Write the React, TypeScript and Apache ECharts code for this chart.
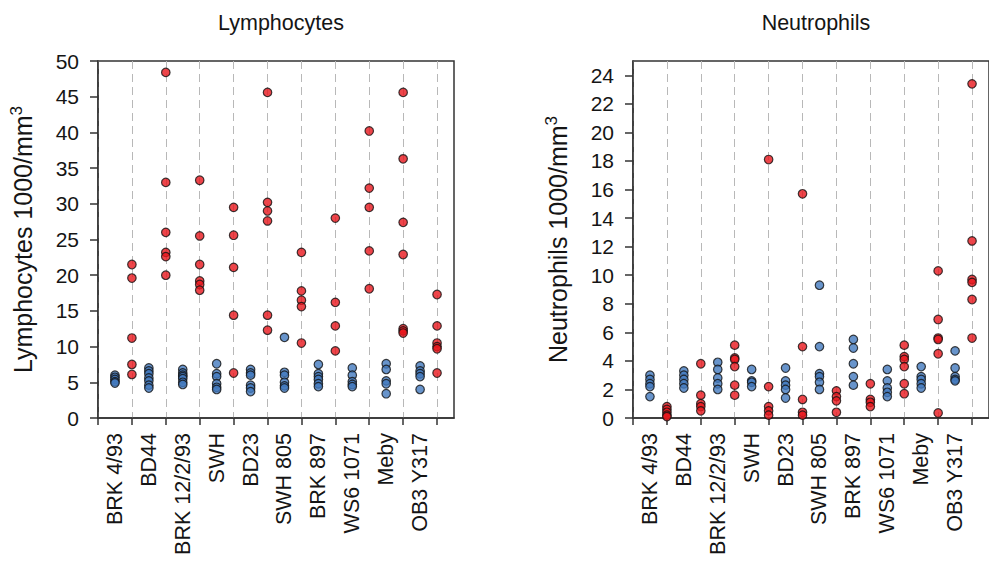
import React, { useEffect, useRef } from "react";
import * as echarts from "echarts";

const categories = ["BRK 4/93", "BD44", "BRK 12/2/93", "SWH", "BD23", "SWH 805", "BRK 897", "WS6 1071", "Meby", "OB3 Y317"];

const lymphBlue: number[][] = [
  [6.0, 5.7, 5.4, 5.1, 4.9],
  [7.0, 6.6, 6.2, 5.6, 5.2, 4.6, 4.2],
  [6.8, 6.3, 6.0, 5.8, 5.5, 5.0, 4.7],
  [7.6, 6.2, 5.8, 4.8, 4.3, 4.0],
  [6.8, 6.3, 6.0, 4.6, 4.2, 3.7],
  [11.3, 6.4, 6.0, 5.0, 4.5, 4.2],
  [7.5, 6.2, 5.8, 5.4, 4.8, 4.4],
  [7.0, 6.0, 5.1, 4.7, 4.4],
  [7.6, 6.8, 5.2, 4.8, 3.4],
  [7.3, 6.6, 6.2, 5.8, 4.0],
];

const lymphRed: number[][] = [
  [21.5, 19.6, 11.2, 7.5, 6.1],
  [48.4, 33.0, 26.0, 23.2, 22.6, 20.0],
  [33.3, 25.5, 21.5, 19.2, 18.7, 17.9],
  [29.5, 25.6, 21.1, 14.4, 6.3],
  [45.6, 30.2, 29.0, 27.6, 14.4, 12.3],
  [23.2, 17.8, 16.5, 15.6, 10.5],
  [28.0, 16.2, 12.9, 9.4],
  [40.2, 32.2, 29.5, 23.4, 18.1],
  [45.6, 36.3, 27.4, 22.9, 12.5, 12.2, 11.9],
  [17.3, 12.9, 10.5, 10.0, 9.7, 6.3],
];

const neutBlue: number[][] = [
  [3.0, 2.7, 2.4, 2.2, 1.5],
  [3.3, 3.0, 2.7, 2.4, 2.1],
  [3.9, 3.4, 2.8, 2.4, 2.0],
  [3.4, 2.6, 2.5, 2.2],
  [3.5, 2.6, 2.3, 2.0, 1.4],
  [9.3, 5.0, 3.1, 2.9, 2.5, 2.0],
  [5.5, 4.9, 3.8, 2.9, 2.3],
  [3.4, 2.6, 2.1, 1.8, 1.5],
  [3.6, 2.9, 2.7, 2.4, 2.1],
  [4.7, 3.5, 2.9, 2.7, 2.6],
];

const neutRed: number[][] = [
  [0.8, 0.6, 0.4, 0.2, 0.1],
  [3.8, 1.6, 1.0, 0.8, 0.5],
  [5.1, 4.2, 4.1, 3.6, 2.3, 1.6],
  [18.1, 2.2, 0.8, 0.5, 0.2],
  [15.7, 5.0, 1.3, 0.4, 0.2],
  [1.9, 1.5, 1.2, 0.4],
  [2.4, 1.3, 1.1, 0.8],
  [5.1, 4.3, 4.1, 3.6, 2.4, 1.7],
  [10.3, 6.9, 5.6, 5.5, 4.5, 0.35],
  [23.4, 12.4, 9.7, 9.5, 8.3, 5.6],
];

const lymphTicks = [0, 5, 10, 15, 20, 25, 30, 35, 40, 45, 50];
const neutTicks = [0, 2, 4, 6, 8, 10, 12, 14, 16, 18, 20, 22, 24];

const FONT = "Liberation Sans, Arial, sans-serif";
const TEXT = "#151515";
const AXIS = "#333333";
const BLUE = "#4279be";
const RED = "#e8161d";

const xTickValues = categories.map((_, i) => i).concat([categories.length]);
const xLabelValues = categories.map((_, i) => i + 0.5);

function toPoints(groups: number[][], offset: number) {
  const pts: number[][] = [];
  groups.forEach((vals, i) => vals.forEach((v) => pts.push([i + offset, v])));
  return pts;
}

export default function App() {
  const ref = useRef<HTMLDivElement>(null);
  useEffect(() => {
    if (!ref.current) return;
    const chart = echarts.init(ref.current, undefined, { renderer: "svg" });

    const makeX = (gridIndex: number) => ({
      type: "value",
      gridIndex,
      min: 0,
      max: categories.length + 0.5,
      interval: 1,
      axisLine: { show: true, onZero: false, lineStyle: { color: AXIS, width: 1.5 } },
      axisTick: { show: true, length: 7, customValues: xTickValues, lineStyle: { color: AXIS, width: 1.5 } },
      axisLabel: {
        show: true,
        customValues: xLabelValues,
        rotate: 90,
        margin: 15,
        fontSize: 21.5,
        fontFamily: FONT,
        color: TEXT,
        formatter: (v: number) => categories[Math.floor(v)] ?? "",
      },
      splitLine: { show: true, lineStyle: { color: "#b8b8b8", width: 1, type: [8, 5] } },
    });

    const makeY = (gridIndex: number, max: number, interval: number, ticks: number[], title: string) => ({
      type: "value",
      gridIndex,
      min: 0,
      max,
      interval,
      name: `{a|${title} 1000/mm}{b|3}`,
      nameLocation: "middle",
      nameRotate: 90,
      nameGap: 60,
      nameTextStyle: {
        fontFamily: FONT,
        color: TEXT,
        rich: {
          a: { fontSize: 25, fontFamily: FONT, color: TEXT, lineHeight: 30 },
          b: { fontSize: 17, fontFamily: FONT, color: TEXT, lineHeight: 17, verticalAlign: "top" },
        },
      },
      axisLine: { show: true, onZero: false, lineStyle: { color: AXIS, width: 1.5 } },
      axisTick: { show: true, length: 8, customValues: ticks, lineStyle: { color: AXIS, width: 1.5 } },
      axisLabel: {
        customValues: ticks,
        margin: 19,
        fontSize: 21,
        fontFamily: FONT,
        color: TEXT,
      },
      splitLine: { show: false },
    });

    const sym = (color: string) => ({ color, borderColor: "#111", borderWidth: 1.2 });
    const titleStyle = { fontSize: 21.5, fontWeight: "normal", fontFamily: FONT, color: TEXT };

    chart.setOption({
      animation: false,
      backgroundColor: "#ffffff",
      title: [
        { text: "Lymphocytes", left: 276, top: 7, textAlign: "center", textStyle: titleStyle },
        { text: "Neutrophils", left: 811, top: 7, textAlign: "center", textStyle: titleStyle },
      ],
      grid: [
        { left: 98, top: 61, width: 356, height: 357, show: true, borderColor: AXIS, borderWidth: 1.5, backgroundColor: "transparent" },
        { left: 633, top: 61, width: 357, height: 357, show: true, borderColor: AXIS, borderWidth: 1.5, backgroundColor: "transparent" },
      ],
      xAxis: [makeX(0), makeX(1)],
      yAxis: [
        makeY(0, 50, 5, lymphTicks, "Lymphocytes"),
        makeY(1, 25, 1, neutTicks, "Neutrophils"),
      ],
      series: [
        { type: "scatter", xAxisIndex: 0, yAxisIndex: 0, symbol: "circle", symbolSize: 8.5, itemStyle: sym(BLUE), data: toPoints(lymphBlue, 0.5) },
        { type: "scatter", xAxisIndex: 0, yAxisIndex: 0, symbol: "circle", symbolSize: 8.5, itemStyle: sym(RED), data: toPoints(lymphRed, 1) },
        { type: "scatter", xAxisIndex: 1, yAxisIndex: 1, symbol: "circle", symbolSize: 8.5, itemStyle: sym(BLUE), data: toPoints(neutBlue, 0.5) },
        { type: "scatter", xAxisIndex: 1, yAxisIndex: 1, symbol: "circle", symbolSize: 8.5, itemStyle: sym(RED), data: toPoints(neutRed, 1) },
      ],
    });
    return () => chart.dispose();
  }, []);

  return (
    <div
      ref={ref}
      style={{ position: "fixed", left: 0, top: 0, width: 989, height: 564, background: "#fff" }}
    />
  );
}
